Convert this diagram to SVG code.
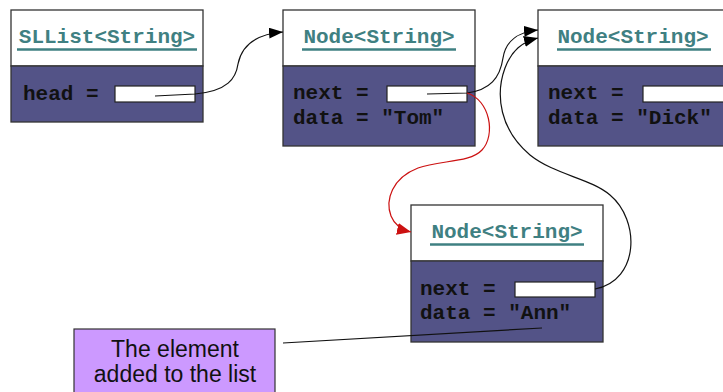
<svg xmlns="http://www.w3.org/2000/svg" width="723" height="392" viewBox="0 0 723 392">
  <style>
    .head { fill: #ffffff; stroke: #333333; stroke-width: 1.3; }
    .body { fill: #535387; stroke: #333333; stroke-width: 1.3; }
    .field { fill: #ffffff; stroke: #222222; stroke-width: 1.2; }
    .title { font-family: "Liberation Mono", "Courier New", monospace; font-weight: bold; font-size: 21px; fill: #3f8082; text-anchor: middle; }
    .uline { stroke: #3f8082; stroke-width: 2.5; }
    .code { font-family: "Liberation Mono", "Courier New", monospace; font-weight: bold; font-size: 21px; fill: #111111; }
    .note { fill: #cc99ff; stroke: #333333; stroke-width: 1.2; }
    .notetext { font-family: "Liberation Sans", Arial, sans-serif; font-size: 23px; fill: #111111; text-anchor: middle; }
    .link { fill: none; stroke: #111111; stroke-width: 1.2; }
    .redlink { fill: none; stroke: #cc1111; stroke-width: 1.2; }
  </style>
  <defs>
    <marker id="arrow" viewBox="0 0 14 11" refX="14" refY="5.5" markerWidth="14" markerHeight="11" markerUnits="userSpaceOnUse" orient="auto">
      <path d="M0,0 L14,5.5 L0,11 Z" fill="#000000"/>
    </marker>
    <marker id="arrowRed" viewBox="0 0 14 12" refX="14" refY="6" markerWidth="14" markerHeight="12" markerUnits="userSpaceOnUse" orient="auto">
      <path d="M0,0 L14,6 L0,12 Z" fill="#cc1111"/>
    </marker>
  </defs>

  <rect width="723" height="392" fill="#ffffff"/>

  <!-- list header object -->
  <g id="sllist">
    <rect class="head" x="11" y="10" width="192" height="56"/>
    <rect class="body" x="11" y="66" width="192" height="56"/>
    <text class="title" x="107" y="43">SLList&lt;String&gt;</text>
    <line class="uline" x1="17" y1="49.5" x2="197" y2="49.5"/>
    <text class="code" x="23" y="100">head =</text>
    <rect class="field" x="115" y="86" width="80" height="16"/>
  </g>

  <!-- node holding "Tom" -->
  <g id="node-tom">
    <rect class="head" x="283" y="10" width="192" height="56"/>
    <rect class="body" x="283" y="66" width="192" height="80"/>
    <text class="title" x="379" y="43">Node&lt;String&gt;</text>
    <line class="uline" x1="302" y1="49.5" x2="456" y2="49.5"/>
    <text class="code" x="293" y="99">next =</text>
    <rect class="field" x="387" y="86" width="80" height="16"/>
    <text class="code" x="293" y="124">data = "Tom"</text>
  </g>

  <!-- node holding "Dick" -->
  <g id="node-dick">
    <rect class="head" x="538" y="10" width="200" height="56"/>
    <rect class="body" x="538" y="66" width="200" height="80"/>
    <text class="title" x="633" y="43">Node&lt;String&gt;</text>
    <line class="uline" x1="557" y1="49.5" x2="711" y2="49.5"/>
    <text class="code" x="548" y="99">next =</text>
    <rect class="field" x="643" y="86" width="90" height="16"/>
    <text class="code" x="548" y="124">data = "Dick"</text>
  </g>

  <!-- newly inserted node holding "Ann" -->
  <g id="node-ann">
    <rect class="head" x="411" y="205" width="192" height="56"/>
    <rect class="body" x="411" y="261" width="192" height="81"/>
    <text class="title" x="507" y="238">Node&lt;String&gt;</text>
    <line class="uline" x1="430" y1="244.5" x2="584" y2="244.5"/>
    <text class="code" x="420" y="295">next =</text>
    <rect class="field" x="515" y="282" width="80" height="15"/>
    <text class="code" x="420" y="319">data = "Ann"</text>
  </g>

  <!-- callout -->
  <g id="note">
    <rect class="note" x="74" y="329" width="201" height="80"/>
    <text class="notetext" x="175" y="357">The element</text>
    <text class="notetext" x="175" y="382">added to the list</text>
  </g>

  <g id="connectors">
    <!-- head -> Tom -->
    <path class="link" d="M155,96 L195,94 C228,91 236,78 238,64 C242,44 258,34 283,32" marker-end="url(#arrow)"/>
    <!-- Tom.next -> Dick -->
    <path class="link" d="M427,94 L467,93 C490,90 500,78 503,58 C506,40 518,32 538,30" marker-end="url(#arrow)"/>
    <!-- Ann.next -> Dick -->
    <path class="link" d="M595,289 C640,280 640,220 610,195 C590,178 555,175 530,155 C500,130 495,95 505,68 C512,50 522,42 538,38" marker-end="url(#arrow)"/>
    <!-- Tom.next -> Ann (new link) -->
    <path class="redlink" d="M467,93 C490,100 496,135 482,150 C470,163 440,160 418,168 C392,178 385,200 391,216 C395,226 402,230 411,232" marker-end="url(#arrowRed)"/>
    <!-- callout pointer -->
    <path class="link" d="M283,343 L542,328"/>
  </g>
</svg>
